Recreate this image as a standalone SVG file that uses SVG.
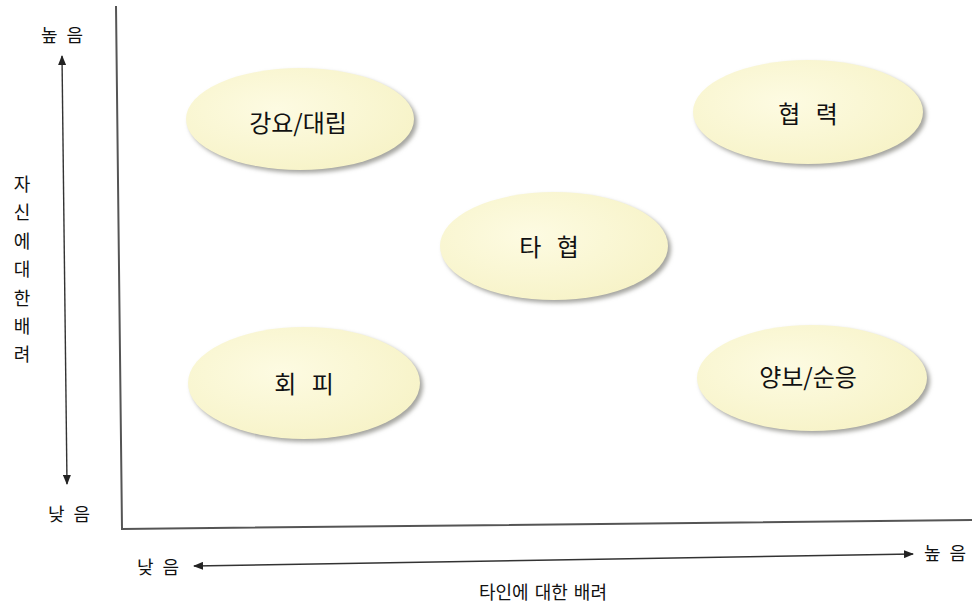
<svg xmlns="http://www.w3.org/2000/svg" width="972" height="607" viewBox="0 0 972 607">
<defs>
<style>
.lbl{font-family:"Noto Sans CJK KR","Noto Sans",sans-serif;font-size:24px;fill:#111;text-anchor:middle;dominant-baseline:central;word-spacing:10px}
.ax{font-family:"Noto Sans CJK KR","Noto Sans",sans-serif;font-size:18px;fill:#111;text-anchor:middle;dominant-baseline:central;word-spacing:5px}
.line{stroke:#333;stroke-width:1.4;fill:none}
.frame{stroke:#555;stroke-width:2;fill:none}
.bub{fill:url(#g)}
.sh{fill:#a5a5a0;filter:url(#blur)}
</style>
<radialGradient id="g" cx="0.4" cy="0.4" r="0.65">
<stop offset="0" stop-color="#fdfbe2"/>
<stop offset="1" stop-color="#f7f3c8"/>
</radialGradient>
<filter id="blur" x="-20%" y="-20%" width="140%" height="140%"><feGaussianBlur stdDeviation="2"/></filter>
<marker id="ah" markerWidth="10" markerHeight="8" refX="9" refY="4" orient="auto-start-reverse" markerUnits="userSpaceOnUse">
<path d="M0,0 L10,4 L0,8 Z" fill="#222"/>
</marker>
</defs>
<rect width="972" height="607" fill="#fff"/>
<g id="frame">
<path class="frame" d="M116,6 L122,529 L972,520"/>
</g>
<g id="connectors">
<line class="line" x1="62" y1="56" x2="67" y2="484" marker-start="url(#ah)" marker-end="url(#ah)"/>
<line class="line" x1="194" y1="566" x2="913" y2="554" marker-start="url(#ah)" marker-end="url(#ah)"/>
</g>
<g id="axis-labels">
<text class="ax" x="62" y="34">높 음</text>
<text class="ax" x="69" y="513">낮 음</text>
<text class="ax" x="158" y="566">낮 음</text>
<text class="ax" x="945" y="552">높 음</text>
<text class="ax" x="543" y="591" style="word-spacing:2px">타인에 대한 배려</text>
<text class="ax" x="22" y="183">자</text>
<text class="ax" x="22" y="211">신</text>
<text class="ax" x="22" y="240">에</text>
<text class="ax" x="22" y="268">대</text>
<text class="ax" x="22" y="297">한</text>
<text class="ax" x="22" y="325">배</text>
<text class="ax" x="22" y="353">려</text>
</g>
<g id="node-force">
<ellipse class="sh" cx="303" cy="122" rx="114" ry="51"/>
<ellipse class="bub" cx="300" cy="119" rx="114" ry="51"/>
<text class="lbl" x="298" y="121">강요/대립</text>
</g>
<g id="node-collab">
<ellipse class="sh" cx="811" cy="115" rx="115" ry="52"/>
<ellipse class="bub" cx="808" cy="112" rx="115" ry="52"/>
<text class="lbl" x="808" y="112">협 력</text>
</g>
<g id="node-compromise">
<ellipse class="sh" cx="557" cy="249" rx="114" ry="54"/>
<ellipse class="bub" cx="554" cy="246" rx="114" ry="54"/>
<text class="lbl" x="549" y="245">타 협</text>
</g>
<g id="node-avoid">
<ellipse class="sh" cx="307" cy="386" rx="116" ry="56"/>
<ellipse class="bub" cx="304" cy="383" rx="116" ry="56"/>
<text class="lbl" x="304" y="382">회 피</text>
</g>
<g id="node-accommodate">
<ellipse class="sh" cx="815" cy="381" rx="115" ry="53"/>
<ellipse class="bub" cx="812" cy="378" rx="115" ry="53"/>
<text class="lbl" x="808" y="375">양보/순응</text>
</g>
</svg>
